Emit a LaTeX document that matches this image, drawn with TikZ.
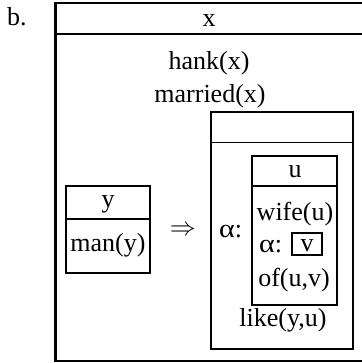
\documentclass[tikz,border=0pt]{standalone}
\usepackage{fontspec}
\setmainfont{Liberation Serif}
\begin{document}
\begin{tikzpicture}[x=1pt, y=-1pt,
  font=\fontsize{26}{30}\selectfont,
  lbl/.style={anchor=base, inner sep=0pt},
  drsbox/.style={draw, rectangle, inner sep=0pt, line width=1.9pt},
  outerbox/.style={drsbox, line width=2.2pt}]
\useasboundingbox (0,0) rectangle (361,363);

% label of the sub-figure
\node[lbl, anchor=base west] (tag) at (7,26) {b.};

% outermost DRS (its right edge runs past the page)
\node[outerbox, minimum width=309pt, minimum height=358.3pt] (outer) at (210,181.85) {};
\path (outer.north west) ++(0,32.3) coordinate (outerhl);
\draw[line width=2.2pt] (outerhl) -- (outerhl -| outer.east);
\node[lbl] (xref) at (209,27) {x};
\node[lbl] (hank) at (209,70) {hank(x)};
\node[lbl] (married) at (210,103) {married(x)};

% antecedent box
\node[drsbox, minimum width=84pt, minimum height=87pt] (ybox) at (108,229.5) {};
\path (ybox.north west) ++(0,34) coordinate (yhl);
\draw[line width=1.9pt] (yhl) -- (yhl -| ybox.east);
\node[lbl] (yref) at (108,207) {y};
\node[lbl] (man) at (108,251) {man(y)};

% implication arrow
\node[inner sep=0pt, scale=1.05] (impl) at (183,231) {$\Rightarrow$};

% consequent box
\node[drsbox, minimum width=142pt, minimum height=237pt] (cons) at (282,230.5) {};
\path (cons.north west) ++(0,31.5) coordinate (conshl);
\draw[line width=1.9pt] (conshl) -- (conshl -| cons.east);
\node[lbl, anchor=base west] (alpha1) at (219,237) {\scalebox{1.15}[1]{α}:};

% presupposed box for u
\node[drsbox, minimum width=85pt, minimum height=149pt] (ubox) at (294.5,230.5) {};
\path (ubox.north west) ++(0,30.7) coordinate (uhl);
\draw[line width=1.9pt] (uhl) -- (uhl -| ubox.east);
\node[lbl] (uref) at (295,177) {u};
\node[lbl] (wife) at (295,220) {wife(u)};
\node[lbl, anchor=base west] (alpha2) at (259,252) {\scalebox{1.15}[1]{α}:};
\node[drsbox, minimum width=30pt, minimum height=22pt] (vbox) at (307,244) {};
\node[lbl] (vref) at (307,251) {v};
\node[lbl] (of) at (294,286) {of(u,v)};
\node[lbl] (like) at (283,326) {like(y,u)};
\end{tikzpicture}
\end{document}
